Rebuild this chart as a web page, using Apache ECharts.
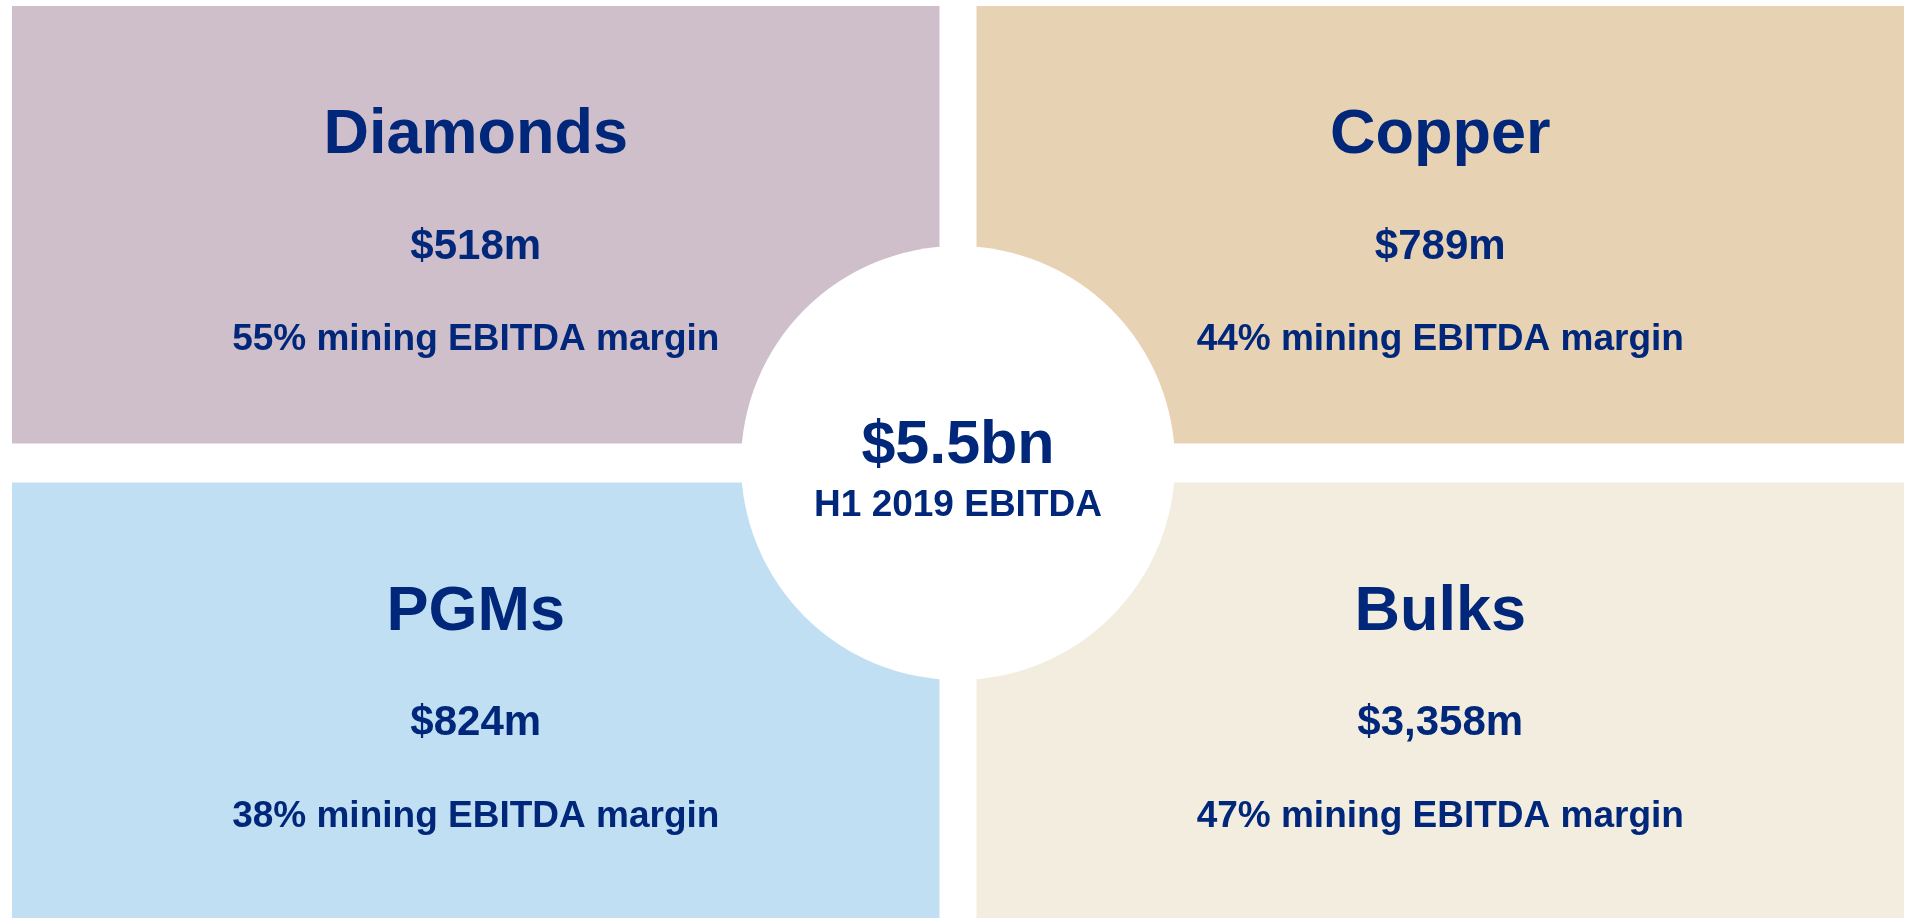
<!DOCTYPE html>
<html>
<head>
<meta charset="utf-8">
<title>H1 2019 EBITDA</title>
<script src="https://cdn.jsdelivr.net/npm/echarts@6/dist/echarts.min.js"></script>
<style>
  html, body { margin: 0; padding: 0; background: #fff; }
  #chart { width: 1913px; height: 918px; }
</style>
</head>
<body>
<div id="chart"></div>
<script>
// data
const segments = ['Diamonds', 'Copper', 'PGMs', 'Bulks'];
const ebitda = [518, 789, 824, 3358]; // $m
const margins = [55, 44, 38, 47]; // % mining EBITDA margin
const totalEbitda = 5.5; // $bn
const period = 'H1 2019';

const colors = ['#CFBFCB', '#E8D2B4', '#C1DFF3', '#F2EDDE'];
const textColor = '#00277A';
const font = '"Liberation Sans", Arial, sans-serif';

const halfGap = 18.5;

function fmt(v) {
  return '$' + v.toLocaleString('en-US') + 'm';
}

const myChart = echarts.init(document.getElementById('chart'));

const option = {
  backgroundColor: '#fff',
  animation: false,
  grid: { left: 12, right: 9, top: 6, bottom: 0 },
  xAxis: { type: 'category', data: ['0', '1'], show: false },
  yAxis: { type: 'category', data: ['0', '1'], inverse: true, show: false },
  series: [
    {
      type: 'custom',
      silent: true,
      data: segments.map((s, i) => [i % 2, Math.floor(i / 2), ebitda[i], margins[i]]),
      renderItem: function (params, api) {
        const i = params.dataIndex;
        const col = api.value(0);
        const row = api.value(1);
        const c = api.coord([col, row]);
        const size = api.size([1, 1]);
        let x = c[0] - size[0] / 2;
        let y = c[1] - size[1] / 2;
        let w = size[0] - halfGap;
        let h = size[1] - halfGap;
        if (col === 1) x += halfGap;
        if (row === 1) y += halfGap + 2;
        const cx = x + w / 2;
        const txt = (t, dy, fs) => ({
          type: 'text',
          style: {
            x: cx, y: y + dy, text: t,
            fill: textColor,
            font: 'bold ' + fs + 'px ' + font,
            align: 'center', verticalAlign: 'middle'
          }
        });
        return {
          type: 'group',
          children: [
            { type: 'rect', shape: { x: x, y: y, width: w, height: h }, style: { fill: colors[i] } },
            txt(segments[i], 130, 63),
            txt(fmt(api.value(2)), 241, 42),
            txt(api.value(3) + '% mining EBITDA margin', 334, 37)
          ]
        };
      },
      z: 1
    },
    {
      // centre circle with the group total
      type: 'pie',
      silent: true,
      center: [958, 463],
      radius: [0, 217],
      z: 5,
      itemStyle: { color: '#fff', borderWidth: 0 },
      label: {
        show: true,
        position: 'center',
        formatter: function () {
          return '{a|$' + totalEbitda + 'bn}\n{b|' + period + ' EBITDA}';
        },
        rich: {
          a: { fontFamily: font, fontWeight: 'bold', fontSize: 61, color: textColor, lineHeight: 85 },
          b: { fontFamily: font, fontWeight: 'bold', fontSize: 37, color: textColor, lineHeight: 33 }
        }
      },
      labelLine: { show: false },
      emphasis: { disabled: true },
      data: [{ value: totalEbitda, name: 'Total' }]
    }
  ]
};

myChart.setOption(option);
window.addEventListener('resize', () => myChart.resize());
</script>
</body>
</html>
